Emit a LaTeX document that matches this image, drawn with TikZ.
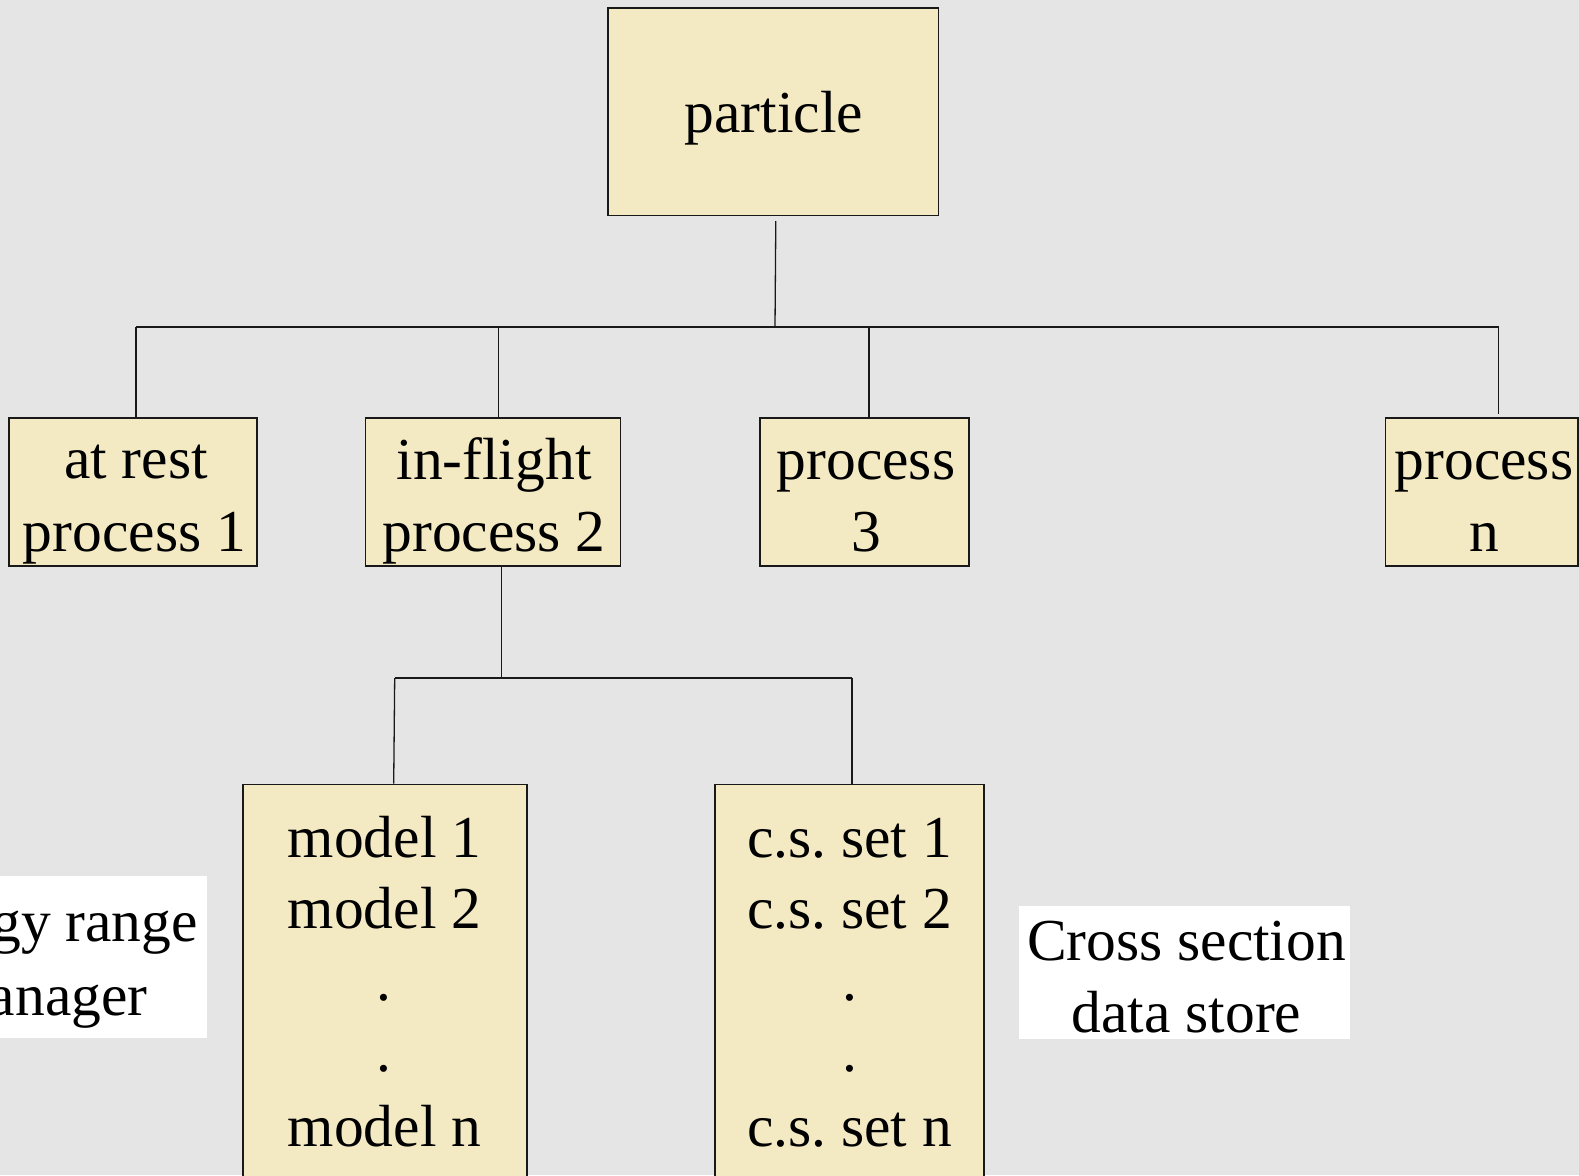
\documentclass[tikz,border=0pt]{standalone}
\usepackage{fontspec}
\setmainfont{Liberation Serif}
\definecolor{bgc}{HTML}{E5E5E5}
\definecolor{boxc}{HTML}{F3EAC3}
\tikzset{
  bx/.style={draw=black!90, fill=boxc, line width=1.6pt, inner sep=0pt, rectangle},
  wbox/.style={fill=white, draw=none, inner sep=0pt, rectangle},
  txt/.style={anchor=base, inner sep=0pt, font=\fontsize{59.5}{72}\selectfont\frenchspacing, text=black},
  conn/.style={draw=black!90, line width=1.3pt},
}
\begin{document}
\frenchspacing
\begin{tikzpicture}[x=1pt,y=-1pt]
\path[use as bounding box, fill=bgc] (0,0) rectangle (1579,1175);
\clip (0,0) rectangle (1579,1175);

% boxes
\node[bx, minimum width=330.5pt, minimum height=207.5pt] (particle) at (773.2,111.7) {};
\node[bx, minimum width=248pt, minimum height=148pt] (rest) at (133,492) {};
\node[bx, minimum width=254.8pt, minimum height=148pt] (flight) at (493,492) {};
\node[bx, minimum width=209pt, minimum height=148pt] (proc3) at (864.5,492) {};
\node[bx, minimum width=192.5pt, minimum height=148pt] (procn) at (1481.75,492) {};
\node[bx, minimum width=284pt, minimum height=405pt] (model) at (384.7,987) {};
\node[bx, minimum width=269pt, minimum height=405pt] (cs) at (849.5,987) {};
\node[wbox, minimum width=334.5pt, minimum height=162.5pt] (erm) at (40,957.2) {};
\node[wbox, minimum width=331pt, minimum height=133pt] (csd) at (1184.5,972.5) {};

% texts
\node[txt] (tpart) at (774,132.7) {particle};
\node[txt] (trest1) at (136,478) {at rest};
\node[txt] (trest2) at (134.5,551) {process 1};
\node[txt] (tfl1) at (494,479) {in-flight};
\node[txt] (tfl2) at (494,551) {process 2};
\node[txt] (tp31) at (866,479) {process};
\node[txt] (tp32) at (866,551) {3};
\node[txt] (tpn1) at (1484,479) {process};
\node[txt] (tpn2) at (1484,551) {n};
\node[txt] (tm1) at (384.5,857) {model 1};
\node[txt] (tm2) at (384.5,928.5) {model 2};
\node[txt] (tm3) at (384,1000) {.};
\node[txt] (tm4) at (384,1071) {.};
\node[txt] (tm5) at (384.5,1146) {model n};
\node[txt] (tc1) at (849.5,857) {c.s. set 1};
\node[txt] (tc2) at (849.5,928.5) {c.s. set 2};
\node[txt] (tc3) at (850,1000) {.};
\node[txt] (tc4) at (850,1071) {.};
\node[txt] (tc5) at (849.5,1146) {c.s. set n};
\node[txt] (te1) at (39,941.5) {Energy range};
\node[txt] (te2) at (45,1015) {manager};
\node[txt] (tx1) at (1186.5,960) {Cross section};
\node[txt] (tx2) at (1186.5,1032) {data store};

% junction coordinates
\coordinate (ptop) at (775.8,221);
\coordinate (pj) at (775,327);
\coordinate (bw) at (136,327);
\coordinate (b2) at (498.5,327);
\coordinate (b3) at (869,327);
\coordinate (be) at (1498.5,327);
\coordinate (ftop) at (501.5,566);
\coordinate (fj) at (501.5,678);
\coordinate (lw) at (394.7,678);
\coordinate (le) at (852,678);

% connectors
\draw[conn] (ptop) -- (pj);
\draw[conn] (bw) -- (be);
\draw[conn] (bw) -- (bw |- rest.north);
\draw[conn] (b2) -- (b2 |- flight.north);
\draw[conn] (b3) -- (b3 |- proc3.north);
\draw[conn] (be) -- ([yshift=3pt]be |- procn.north);
\draw[conn] (ftop |- flight.south) -- (fj);
\draw[conn] (lw) -- (le);
\draw[conn] (lw) -- ([xshift=-1pt]lw |- model.north);
\draw[conn] (le) -- (le |- cs.north);
\end{tikzpicture}
\end{document}
